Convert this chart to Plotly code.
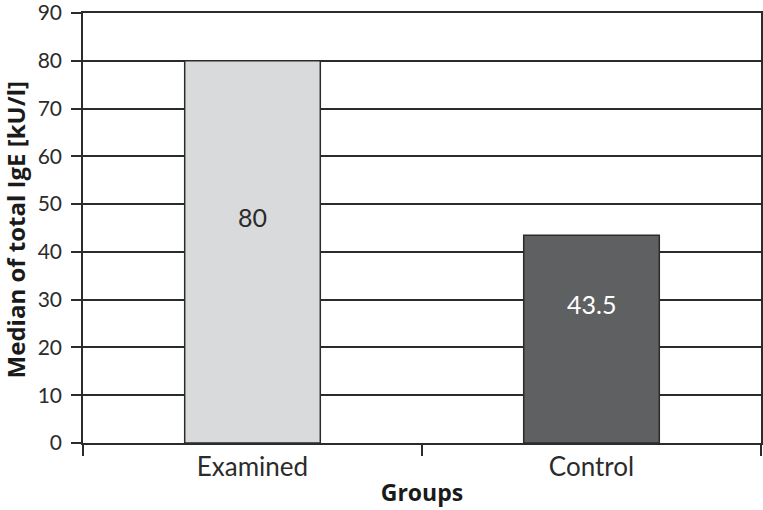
import plotly.graph_objects as go

groups = ["Examined", "Control"]
medians = [80, 43.5]
bar_colors = ["#d9dadc", "#5f6062"]
label_colors = ["#2b2b2b", "#ffffff"]
label_texts = ["80", "43.5"]
y_ticks = [0, 10, 20, 30, 40, 50, 60, 70, 80, 90]

FONT = "Lato, 'Open Sans', sans-serif"
TITLE_FONT = "'Open Sans', Lato, sans-serif"
INK = "#2b2b2b"

fig = go.Figure()
fig.add_trace(go.Bar(
    x=groups, y=medians,
    marker=dict(color=bar_colors, line=dict(color=INK, width=1.5)),
    width=0.4,
    hoverinfo="skip",
))

for g, v, t, c in zip(groups, medians, label_texts, label_colors):
    fig.add_annotation(x=g, y=v / 2 + 7.4, text=t,
                       showarrow=False, font=dict(family=FONT, size=25, color=c), yanchor="middle")

# y-axis title as a rotated annotation
fig.add_annotation(xref="paper", yref="paper", x=-0.099, y=0.4965,
                   text="<b>Median of total IgE [kU/l]</b>", textangle=-90,
                   showarrow=False, xanchor="center", yanchor="middle",
                   font=dict(family=TITLE_FONT, size=24, color="#1a1a1a"))

fig.update_layout(
    width=763, height=510,
    margin=dict(l=83, r=2, t=13, b=67),
    plot_bgcolor="white", paper_bgcolor="white",
    showlegend=False,
    font=dict(family=FONT, size=21, color=INK),
)
fig.update_xaxes(
    type="category", tickson="boundaries", automargin=False,
    showline=True, linecolor=INK, linewidth=1.5, mirror=True,
    ticks="outside", ticklen=11, tickcolor=INK, tickwidth=1.5,
    showgrid=False, range=[-0.5, 1.5],
    tickfont=dict(family=FONT, size=26, color=INK),
    title=dict(text="<b>Groups</b>", font=dict(family=TITLE_FONT, size=23, color="#1a1a1a"), standoff=4),
)
fig.update_yaxes(
    range=[0, 90.001], tickvals=y_ticks, automargin=False,
    showline=True, linecolor=INK, linewidth=1.5, mirror=True,
    ticks="outside", ticklen=10, tickcolor=INK, tickwidth=1.5,
    showgrid=True, gridcolor=INK, gridwidth=1.5,
    zeroline=False, ticklabelstandoff=5, ticklabeloverflow="allow",
    tickfont=dict(family=FONT, size=21, color=INK),
)

fig.write_html("out.html", config={"displayModeBar": False},
               post_script="document.body.style.margin='0';")
